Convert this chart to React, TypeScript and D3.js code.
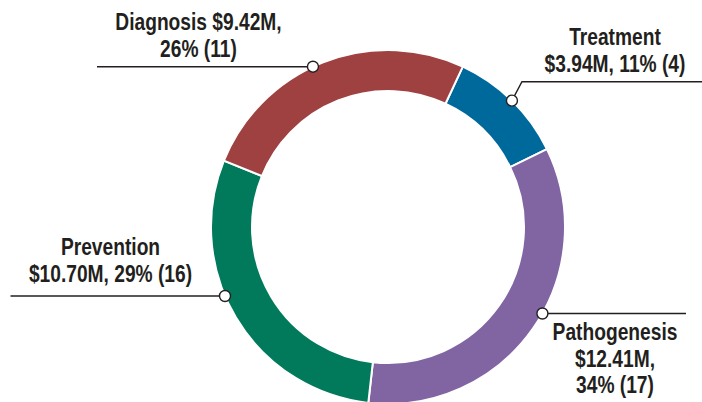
import React from "react";
import * as d3 from "d3";

const categories = ["Treatment", "Pathogenesis", "Prevention", "Diagnosis"];
const amounts = [3.94, 12.41, 10.7, 9.42];
const percents = [11, 34, 29, 26];
const counts = [4, 17, 16, 11];
const colors = ["#00699c", "#8165a3", "#017a5b", "#9e4140"];

// label text split per line, as in the original
const labelLines = [
  ["Treatment", "$3.94M, 11% (4)"],
  ["Pathogenesis", "$12.41M,", "34% (17)"],
  ["Prevention", "$10.70M, 29% (16)"],
  ["Diagnosis $9.42M,", "26% (11)"],
];

// label placement (layout only)
const labelLayout = [
  { tx: 615, ty: 45, lineY: 81.7, lineEnd: 705, elbow: true },
  { tx: 615, ty: 340, lineY: 313.5, lineEnd: 686, elbow: false },
  { tx: 110.5, ty: 255, lineY: 296, lineEnd: 10.5, elbow: false },
  { tx: 198.5, ty: 30, lineY: 66.7, lineEnd: 97, elbow: false },
];

const W = 702;
const H = 402;
const cx = 388;
const cy = 227;
const outerR = 177;
const innerR = 136;
const lineH = 26.6;
const squeeze = 0.835; // condensed look of the original typeface

export default function App() {
  const data = categories.map((c, i) => ({
    name: c,
    amount: amounts[i],
    pct: percents[i],
    count: counts[i],
    color: colors[i],
  }));

  const start = (25 * Math.PI) / 180;
  const pie = d3
    .pie<any>()
    .sort(null)
    .value((d) => d.amount)
    .startAngle(start)
    .endAngle(start + 2 * Math.PI);
  const arcs = pie(data);
  const arcGen = d3.arc<any>().innerRadius(innerR).outerRadius(outerR);

  return (
    <div style={{ position: "absolute", left: 0, top: 0 }}>
      <svg width={W} height={H} style={{ display: "block" }}>
        <g transform={`translate(${cx},${cy})`}>
          {arcs.map((a, i) => (
            <path
              key={i}
              d={arcGen(a) as string}
              fill={a.data.color}
              stroke="#fff"
              strokeWidth={2}
            />
          ))}
        </g>
        {arcs.map((a, i) => {
          const lay = labelLayout[i];
          let dx: number, dy: number;
          if (lay.elbow) {
            const mid = (a.startAngle + a.endAngle) / 2;
            dx = cx + Math.sin(mid) * outerR;
            dy = cy - Math.cos(mid) * outerR;
          } else {
            const off = lay.lineY - cy;
            const h = Math.sqrt(outerR * outerR - off * off);
            dx = lay.lineEnd > cx ? cx + h : cx - h;
            dy = lay.lineY;
          }
          const path = lay.elbow
            ? `M${dx},${dy}L${dx + 10},${lay.lineY}L${lay.lineEnd},${lay.lineY}`
            : `M${dx},${dy}L${lay.lineEnd},${lay.lineY}`;
          return (
            <g key={i}>
              <path d={path} fill="none" stroke="#231f20" strokeWidth={1.4} />
              <circle cx={dx} cy={dy} r={5.5} fill="#fff" stroke="#231f20" strokeWidth={1.4} />
              <text
                transform={`translate(${lay.tx},0) scale(${squeeze},1)`}
                textAnchor="middle"
                fill="#231f20"
                fontFamily="'Liberation Sans', Arial, sans-serif"
                fontWeight="bold"
                fontSize={23}
              >
                {labelLines[i].map((t, j) => (
                  <tspan key={j} x={0} y={lay.ty + j * lineH}>
                    {t}
                  </tspan>
                ))}
              </text>
            </g>
          );
        })}
      </svg>
    </div>
  );
}
